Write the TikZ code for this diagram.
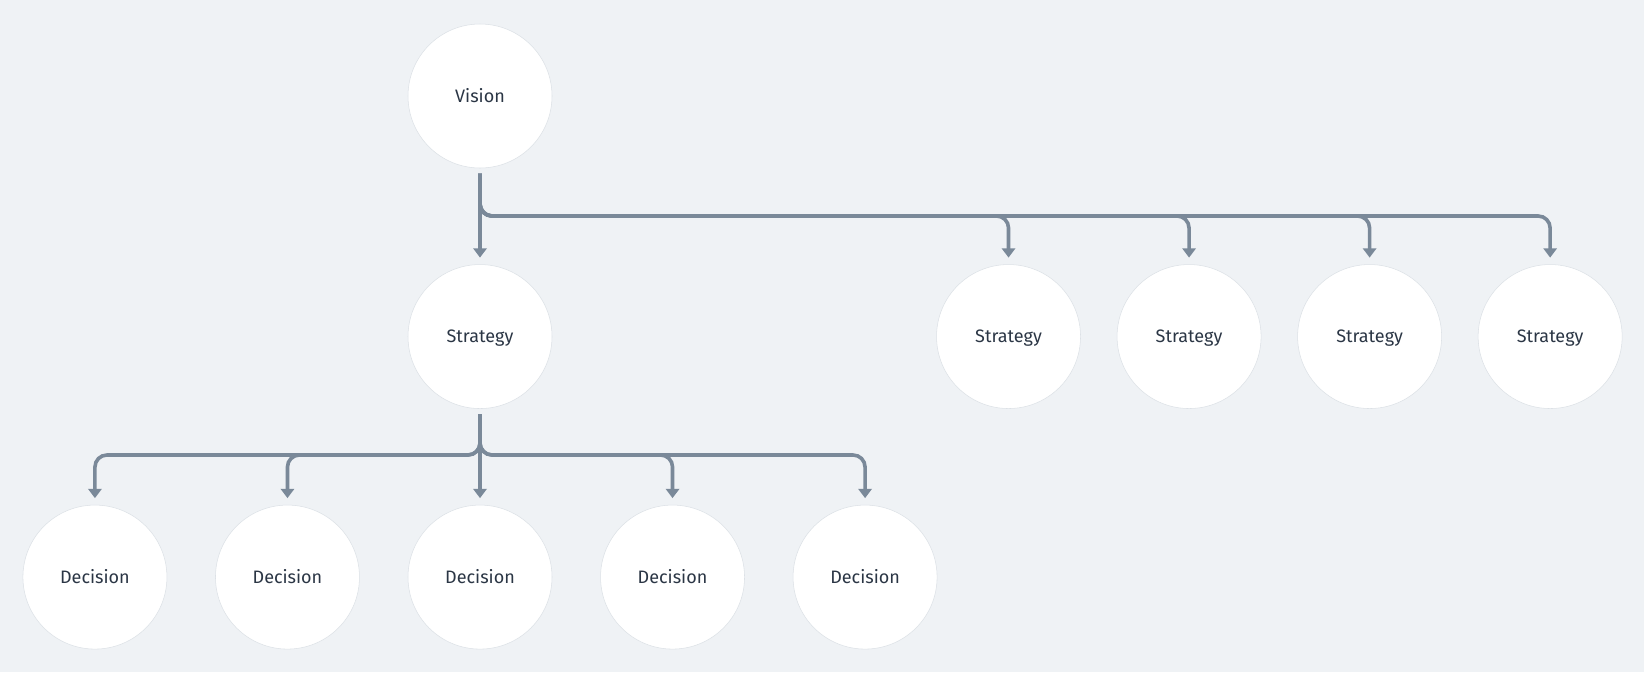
\documentclass[tikz,border=0pt]{standalone}
\usepackage{fontspec}
\setmainfont{Fira Sans}
\usepackage{xcolor}
\usetikzlibrary{arrows.meta,positioning,calc}

\definecolor{bgcol}{HTML}{EFF2F5}
\definecolor{linkcol}{HTML}{7A8999}
\definecolor{textcol}{HTML}{2B3645}
\definecolor{rimcol}{HTML}{DCE1E6}

\begin{document}
\begin{tikzpicture}[
    x=0.75pt, y=-0.75pt,
    circ/.style={circle, draw=rimcol, line width=0.4pt, fill=white, minimum size=108pt, inner sep=0pt, text height=9.3pt, text depth=0pt, text=textcol, font=\fontsize{13.5}{15}\selectfont},
    link/.style={draw=linkcol, line width=2.7pt, rounded corners=9pt, -{Triangle[width=10pt,length=7pt]}}
]
\fill [bgcol] (0,0) rectangle (1644,672);
\useasboundingbox (0,0) rectangle (1644,672);

% levels
\node [circ] (vision) at (480,96) {Vision};
\node [circ, below=72pt of vision] (s1) {Strategy};
\node [circ, right=288pt of s1] (s2) {Strategy};
\node [circ, right=27pt of s2] (s3) {Strategy};
\node [circ, right=27pt of s3] (s4) {Strategy};
\node [circ, right=27pt of s4] (s5) {Strategy};
\node [circ, below=72pt of s1] (d3) {Decision};
\node [circ, left=36pt of d3] (d2) {Decision};
\node [circ, left=36pt of d2] (d1) {Decision};
\node [circ, right=36pt of d3] (d4) {Decision};
\node [circ, right=36pt of d4] (d5) {Decision};

\coordinate (bus1) at (480,216);
\coordinate (bus2) at (480,455);

% vision to strategies
\path [link] ([yshift=-4pt]vision.south) -- ([yshift=5pt]s1.north);
\foreach \n in {s2,s3,s4,s5}
    \path [link] ([yshift=-4pt]vision.south) |- (bus1 -| \n) -- ([yshift=5pt]\n.north);

% strategy to decisions
\path [link] ([yshift=-4pt]s1.south) -- ([yshift=5pt]d3.north);
\foreach \n in {d1,d2,d4,d5}
    \path [link] ([yshift=-4pt]s1.south) |- (bus2 -| \n) -- ([yshift=5pt]\n.north);

\end{tikzpicture}
\end{document}
